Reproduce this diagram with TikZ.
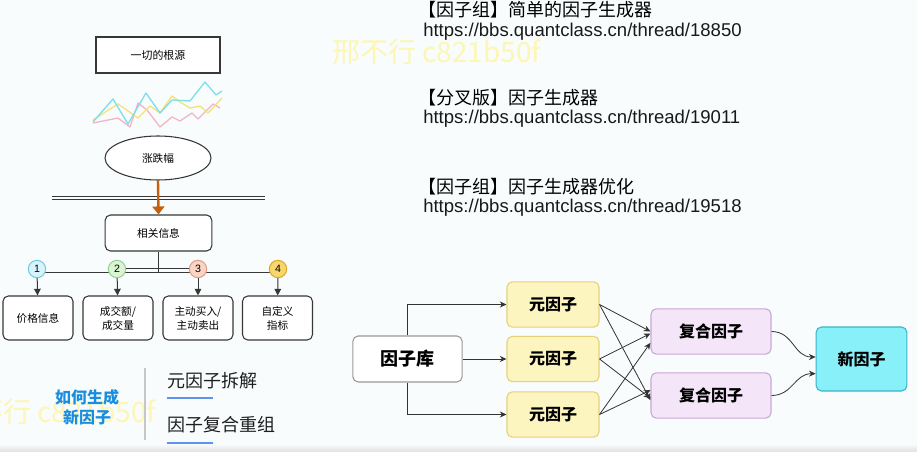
\documentclass[tikz,border=0pt]{standalone}
\usepackage{fontspec}
\setmainfont{Liberation Sans}
\newfontfamily\cjk{Noto Sans CJK SC}
\usetikzlibrary{arrows.meta,shapes.geometric,calc}

\definecolor{bg}{RGB}{248,252,252}
\definecolor{edge}{RGB}{55,55,55}
\definecolor{wmark}{RGB}{253,246,180}
\definecolor{chartcyan}{RGB}{128,222,234}
\definecolor{chartyellow}{RGB}{246,226,120}
\definecolor{chartpink}{RGB}{242,182,198}
\definecolor{flowarrow}{RGB}{196,96,14}
\definecolor{metafill}{RGB}{253,245,192}
\definecolor{metaline}{RGB}{230,208,120}
\definecolor{compfill}{RGB}{244,230,248}
\definecolor{compline}{RGB}{200,168,214}
\definecolor{newfill}{RGB}{136,240,248}
\definecolor{newline}{RGB}{60,180,196}
\definecolor{howblue}{RGB}{26,142,222}
\definecolor{ulblue}{RGB}{96,146,236}

\begin{document}
\begin{tikzpicture}[x=0.75pt,y=-0.75pt,
  sharpbox/.style={draw=edge, fill=white, line width=0.8pt, inner sep=0pt,
    minimum width=93pt, minimum height=27pt, font=\cjk\fontsize{8.2}{10}\selectfont},
  roundbox/.style={draw=edge, fill=white, line width=0.8pt, rounded corners=4pt, inner sep=0pt,
    font=\cjk\fontsize{8}{10.5}\selectfont, align=center},
  numcircle/.style={circle, draw, line width=0.75pt, minimum size=13pt, inner sep=0pt,
    font=\fontsize{8}{9}\selectfont},
  link/.style={draw=edge, line width=0.75pt, -{Triangle[length=5pt,width=5pt]}},
  bar/.style={draw=edge, line width=0.75pt},
  flowbox/.style={rounded corners=4pt, line width=0.8pt, inner sep=0pt,
    font=\cjk\bfseries\fontsize{12}{14}\selectfont},
  thin link/.style={draw=black!80, line width=0.6pt, -{Stealth[length=5pt,width=4.5pt]}},
  heading/.style={anchor=west, inner sep=0pt, font=\cjk\fontsize{13.5}{16}\selectfont},
  url/.style={anchor=west, inner sep=0pt, font=\fontsize{13.9}{16}\selectfont, text=black!90},
  watermark/.style={anchor=west, inner sep=0pt, text=wmark, font=\cjk\fontsize{21}{24}\selectfont}
]
\fill[bg] (0,0) rectangle (917,452);
\useasboundingbox (0,0) rectangle (917,452);
\clip (0,0) rectangle (917,452);

% bottom edge of the slide
\shade[top color=bg, bottom color=black!12] (0,444) rectangle (917,452);

% watermarks
\node[watermark] (wm1) at (332,52) {邢不行 c821b50f};
\node[watermark] (wm2) at (-53,412) {邢不行 c821b50f};

% ---------------- left tree ----------------
\node[sharpbox] (root) at (158,55) {一切的根源};

% small price chart
\draw[chartpink, line width=1pt, line join=round]
  (93,123) -- (118,118) -- (130,127) -- (138,103) -- (147,110) -- (160,127) -- (172,117)
  -- (180,121) -- (192,113) -- (198,119) -- (213,104) -- (220,108);
\draw[chartyellow, line width=1pt, line join=round]
  (93,120) -- (118,104) -- (138,118) -- (150,106) -- (160,113) -- (172,96) -- (180,102)
  -- (190,108) -- (200,106) -- (208,113) -- (222,98);
\draw[chartcyan, line width=1pt, line join=round]
  (93,122) -- (113,99) -- (128,124) -- (146,93) -- (160,113) -- (172,100) -- (190,101)
  -- (205,82) -- (216,95) -- (222,91);

\node[ellipse, draw=edge, fill=white, line width=0.8pt, minimum width=79.5pt, minimum height=33pt,
  inner sep=0pt, font=\cjk\fontsize{8}{10}\selectfont] (amp) at (158,158) {涨跌幅};

% double rule
\draw[bar] (52,196.5) -- (265,196.5);
\draw[bar] (52,200) -- (265,200);

\node[roundbox, minimum width=80pt, minimum height=27pt] (info) at (158.5,233) {相关信息};

\draw[flowarrow, line width=1.8pt, -{Triangle[length=6pt,width=9pt]}] (amp.south) -- (info.north);

% branch bar
\coordinate (j0) at (158.5,273);
\coordinate (j1) at (37,273);
\coordinate (j4) at (278,273);
\draw[bar] (info.south) -- (j0);
\draw[bar] (j1) -- (j4);

\node[numcircle, draw={rgb,255:red,110;green,200;blue,222}, fill={rgb,255:red,214;green,244;blue,250}] (n1) at (37,269) {1};
\node[numcircle, draw={rgb,255:red,150;green,208;blue,144}, fill={rgb,255:red,218;green,244;blue,212}] (n2) at (117,269) {2};
\node[numcircle, draw={rgb,255:red,222;green,156;blue,130}, fill={rgb,255:red,250;green,212;blue,196}] (n3) at (198,269) {3};
\node[numcircle, draw={rgb,255:red,214;green,166;blue,40}, fill={rgb,255:red,249;green,214;blue,108}] (n4) at (278,269) {4};
\draw[bar] (n2) -- (n3);

\node[roundbox, minimum width=52.5pt, minimum height=33pt] (b1) at (38,318) {价格信息};
\node[roundbox, minimum width=52.5pt, minimum height=33pt] (b2) at (118,318) {成交额/\\成交量};
\node[roundbox, minimum width=52.5pt, minimum height=33pt] (b3) at (198,318) {主动买入/\\主动卖出};
\node[roundbox, minimum width=52.5pt, minimum height=33pt] (b4) at (277.5,318) {自定义\\指标};

\draw[link] (n1) -- (b1);
\draw[link] (n2) -- (b2);
\draw[link] (n3) -- (b3);
\draw[link] (n4) -- (b4);

% ---------------- bottom left caption ----------------
\node[font=\cjk\bfseries\fontsize{12}{14}\selectfont, text=howblue, inner sep=0pt] (how1) at (87,397) {如何生成};
\node[font=\cjk\bfseries\fontsize{12}{14}\selectfont, text=howblue, inner sep=0pt] (how2) at (87,417) {新因子};
\draw[black!22, line width=1.2pt] (145,368) -- (145,440);
\node[anchor=west, inner sep=0pt, font=\cjk\fontsize{13.5}{16}\selectfont, text=black!88] (s1) at (167,381) {元因子拆解};
\node[anchor=west, inner sep=0pt, font=\cjk\fontsize{13.5}{16}\selectfont, text=black!88] (s2) at (167,425) {因子复合重组};
\draw[ulblue, line width=1.5pt] (167,398) -- (213,398);
\draw[ulblue, line width=1.5pt] (167,443) -- (213,443);

% ---------------- links list ----------------
\node[heading] (h1) at (418,10) {【因子组】简单的因子生成器};
\node[url] (u1) at (423,32) {https://bbs.quantclass.cn/thread/18850};
\node[heading] (h2) at (418,98) {【分叉版】因子生成器};
\node[url] (u2) at (423,119) {https://bbs.quantclass.cn/thread/19011};
\node[heading] (h3) at (418,187) {【因子组】因子生成器优化};
\node[url] (u3) at (423,208) {https://bbs.quantclass.cn/thread/19518};

% ---------------- factor flow ----------------
\node[flowbox, draw=black!40, fill=white, minimum width=82pt, minimum height=34.5pt,
  font=\cjk\bfseries\fontsize{13.5}{16}\selectfont] (lib) at (407.5,359) {因子库};
\node[flowbox, draw=metaline, fill=metafill, minimum width=69pt, minimum height=34pt] (m1) at (553,304.5) {元因子};
\node[flowbox, draw=metaline, fill=metafill, minimum width=69pt, minimum height=34pt] (m2) at (553,359) {元因子};
\node[flowbox, draw=metaline, fill=metafill, minimum width=69pt, minimum height=34pt] (m3) at (553,414.5) {元因子};
\node[flowbox, draw=compline, fill=compfill, minimum width=90pt, minimum height=34pt] (f1) at (711,331.5) {复合因子};
\node[flowbox, draw=compline, fill=compfill, minimum width=90pt, minimum height=34pt] (f2) at (711,395.5) {复合因子};
\node[flowbox, draw=newline, fill=newfill, minimum width=68pt, minimum height=48pt] (nf) at (861.5,359) {新因子};

\draw[thin link] (lib.north) |- (m1.west);
\draw[thin link] (lib.east) -- (m2.west);
\draw[thin link] (lib.south) |- (m3.west);

\draw[thin link] (m1.east) -- ([yshift=0pt]f1.west);
\draw[thin link] (m2.east) -- ([yshift=-1.5pt]f1.west);
\draw[thin link] (m3.east) -- ([yshift=-8.5pt]f1.west);
\draw[thin link] (m1.east) -- ([yshift=-3.5pt]f2.west);
\draw[thin link] (m2.east) -- ([yshift=-2pt]f2.west);
\draw[thin link] (m3.east) -- ([yshift=4pt]f2.west);

\draw[thin link] (f1.east) to[out=0,in=180,looseness=1.1] ([yshift=1.5pt]nf.west);
\draw[thin link] (f2.east) to[out=0,in=180,looseness=1.1] ([yshift=-11pt]nf.west);
\end{tikzpicture}
\end{document}
